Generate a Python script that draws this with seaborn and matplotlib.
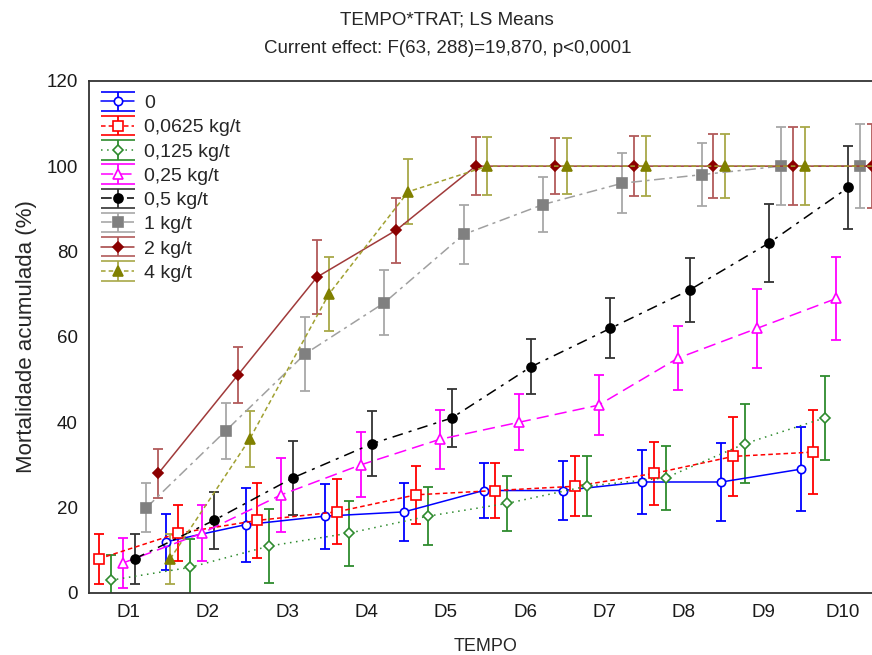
# ---- Imports ----
import numpy as np
import pandas as pd
import matplotlib
matplotlib.use("Agg")
import matplotlib.pyplot as plt
import seaborn as sns

# ---- Data (LS means of cumulative mortality, %) ----
days = ["D1", "D2", "D3", "D4", "D5", "D6", "D7", "D8", "D9", "D10"]
treatments = ["0", "0,0625 kg/t", "0,125 kg/t", "0,25 kg/t",
              "0,5 kg/t", "1 kg/t", "2 kg/t", "4 kg/t"]

mort_0 = [8, 12, 16, 18, 19, 24, 24, 26, 26, 29]
mort_00625 = [8, 14, 17, 19, 23, 24, 25, 28, 32, 33]
mort_0125 = [3, 6, 11, 14, 18, 21, 25, 27, 35, 41]
mort_025 = [7, 14, 23, 30, 36, 40, 44, 55, 62, 69]
mort_05 = [8, 17, 27, 35, 41, 53, 62, 71, 82, 95]
mort_1 = [20, 38, 56, 68, 84, 91, 96, 98, 100, 100]
mort_2 = [28, 51, 74, 85, 100, 100, 100, 100, 100, 100]
mort_4 = [8, 36, 70, 94, 100, 100, 100, 100, 100, 100]

# half width of the 0.95 confidence interval, per day
ci_half = [5.8, 6.6, 8.7, 7.6, 6.85, 6.5, 7.0, 7.45, 9.2, 9.8]

series = [mort_0, mort_00625, mort_0125, mort_025,
          mort_05, mort_1, mort_2, mort_4]

# ---- Long table ----
rows = []
for t, vals in zip(treatments, series):
    for d, v, e in zip(days, vals, ci_half):
        rows.append({"TRAT": t, "TEMPO": d, "mort": v, "ci": e})
df = pd.DataFrame(rows)
df["day_idx"] = df["TEMPO"].map({d: i + 1 for i, d in enumerate(days)})

# ---- Styles per treatment ----
styles = {
    "0":           dict(color="#0000FF", ecolor="#0000FF", ls="-",               marker="o", ms=6.0, mfc="white"),
    "0,0625 kg/t": dict(color="#FF0000", ecolor="#FF0000", ls=(0, (3, 2)),       marker="s", ms=7.0, mfc="white"),
    "0,125 kg/t":  dict(color="#2E8B2E", ecolor="#2E8B2E", ls=(0, (1, 3)),       marker="D", ms=5.5, mfc="white"),
    "0,25 kg/t":   dict(color="#FF00FF", ecolor="#FF00FF", ls=(0, (8, 4)),       marker="^", ms=7.0, mfc="white"),
    "0,5 kg/t":    dict(color="#000000", ecolor="#333333", ls=(0, (7, 4, 2, 4)), marker="o", ms=6.5, mfc=None),
    "1 kg/t":      dict(color="#808080", ecolor="#A8A8A8", ls=(0, (7, 3, 2, 3)), marker="s", ms=7.0, mfc=None),
    "2 kg/t":      dict(color="#8B0000", ecolor="#B25A5A", ls="-",               marker="D", ms=5.0, mfc=None),
    "4 kg/t":      dict(color="#808000", ecolor="#A8A848", ls=(0, (3, 2)),       marker="^", ms=6.5, mfc=None),
}
line_colors = {"1 kg/t": "#A0A0A0", "2 kg/t": "#A03A3A", "4 kg/t": "#A0A030"}

offset_step = 0.15
n_trat = len(treatments)
x_lo, x_hi = 0.5, 10.5

# ---- Plot ----
sns.set_theme(style="white")
plt.rcParams["font.family"] = ["Liberation Sans", "DejaVu Sans"]

fig = plt.figure(figsize=(8.72, 6.55), dpi=100)
ax = fig.add_axes([0.102, 0.0947, 0.9095, 0.782])

handles = []
for i, t in enumerate(treatments):
    st = styles[t]
    sub = df[df["TRAT"] == t].copy()
    sub["x"] = sub["day_idx"] + (i - (n_trat - 1) / 2) * offset_step
    # points dodged left of the frame are not shown (as in the original)
    sub = sub[sub["x"] >= x_lo]
    face = st["mfc"] if st["mfc"] else st["color"]

    ax.errorbar(sub["x"], sub["mort"], yerr=sub["ci"], fmt="none",
                ecolor=st["ecolor"], elinewidth=1.3, capsize=3.8,
                capthick=1.3, zorder=2)
    sns.lineplot(data=sub, x="x", y="mort", ax=ax,
                 color=line_colors.get(t, st["color"]), linestyle=st["ls"],
                 linewidth=1.1, marker=st["marker"], markersize=st["ms"],
                 markerfacecolor=face, markeredgecolor=st["color"],
                 markeredgewidth=1.2, zorder=3, legend=False)
    # legend proxy (nothing drawn on the axes)
    h = ax.errorbar([np.nan], [np.nan], yerr=[1], color=line_colors.get(t, st["color"]),
                    ls=st["ls"], lw=1.1, marker=st["marker"], ms=st["ms"],
                    mfc=face, mec=st["color"], mew=1.2,
                    ecolor=st["ecolor"], elinewidth=1.3, capsize=12, capthick=1.3,
                    label=t)
    handles.append(h)

ax.set_xlim(x_lo, x_hi)
ax.set_ylim(0, 120)
ax.set_xticks(range(1, len(days) + 1))
ax.set_xticklabels(days)
ax.set_yticks(range(0, 121, 20))
ax.tick_params(direction="in", length=4, width=1, colors="#333333",
               labelsize=13.5, labelcolor="#1a1a1a", pad=8)
for s in ax.spines.values():
    s.set_color("#333333")
    s.set_linewidth(1.3)

ax.set_xlabel("TEMPO", fontsize=13, labelpad=12)
ax.set_ylabel("Mortalidade acumulada (%)", fontsize=16, labelpad=7)

ax.legend(handles=handles, labels=treatments, loc="upper left",
          bbox_to_anchor=(0.003, 0.992), frameon=False, fontsize=14,
          handlelength=1.7, handletextpad=0.5, labelspacing=0.34,
          borderaxespad=0.3, borderpad=0.2, numpoints=1)

fig.text(0.513, 0.969, "TEMPO*TRAT; LS Means", ha="center", va="center", fontsize=13.5)
fig.text(0.513, 0.926, "Current effect: F(63, 288)=19,870, p<0,0001",
         ha="center", va="center", fontsize=13.5)

fig.savefig("out.png", dpi=100)
